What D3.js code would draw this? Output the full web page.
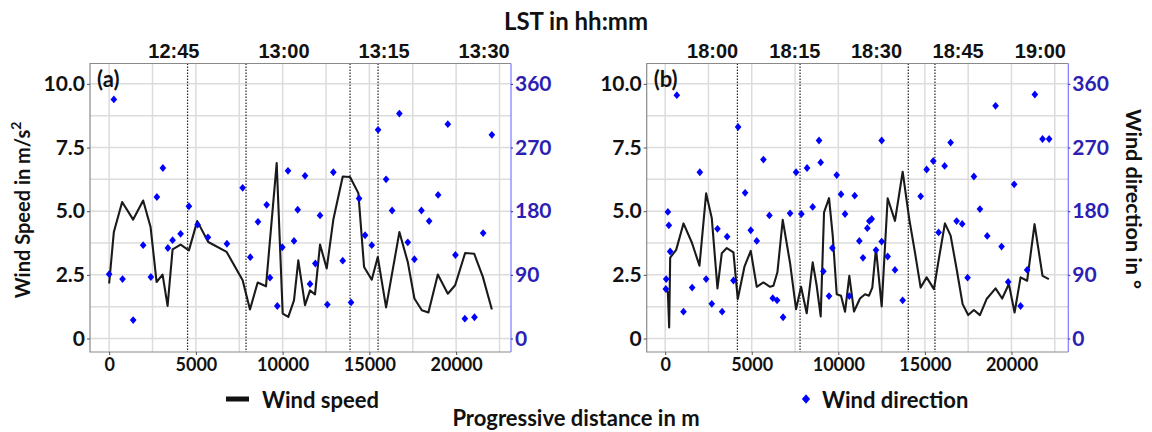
<!DOCTYPE html>
<html>
<head>
<meta charset="utf-8">
<script src="https://cdn.jsdelivr.net/npm/d3@7"></script>
<style>
  body { margin: 0; background: #fff; }
  svg { display: block; }
</style>
</head>
<body>
<svg id="chart" width="1152" height="432"></svg>
<script>
// ---- Panel (a): midday traverse ----
const speedDistA = [0, 271, 750, 1385, 1961, 2388, 2734, 3080, 3369, 3657, 4119, 4598, 5076, 5711, 6772, 7695,
  8117, 8561, 9040, 9657, 10003, 10326, 10655, 10903, 11290, 11578, 11866, 12155, 12541, 12922, 13464, 13885,
  14364, 14693, 15137, 15483, 15962, 16729, 17214, 17595, 18021, 18402, 18944, 19521, 19942, 20519, 21039, 21540, 22059];
const speedA = [2.16, 4.18, 5.36, 4.67, 5.42, 4.38, 2.22, 2.51, 1.28, 3.50, 3.69, 3.46, 4.61, 3.79, 3.40, 2.29,
  1.14, 2.20, 2.05, 6.89, 0.98, 0.85, 1.50, 3.07, 1.31, 1.89, 1.73, 3.69, 2.75, 4.67, 6.36, 6.34,
  5.71, 2.81, 2.31, 3.20, 1.22, 4.18, 3.00, 1.57, 1.11, 1.02, 2.51, 1.76, 2.09, 3.36, 3.33, 2.42, 1.14];
const dirDistA = [0, 271, 773, 1385, 1961, 2406, 2752, 3098, 3386, 3657, 4119, 4598, 5100, 5694, 6790, 7695,
  8135, 8578, 9080, 9270, 9692, 9980, 10309, 10655, 10868, 11290, 11578, 11884, 12155, 12576, 12922, 13464,
  13943, 14405, 14751, 15137, 15500, 15962, 16308, 16729, 17214, 17595, 18000, 18443, 18962, 19521, 19960,
  20502, 21057, 21557, 22059];
const dirA = [91, 338, 84, 26, 132, 87, 200, 241, 128, 139, 148, 187, 161, 143, 134, 213,
  115, 165, 189, 86, 46, 129, 237, 138, 182, 230, 77, 106, 174, 48, 235, 110,
  51, 198, 146, 132, 295, 225, 181, 318, 136, 112, 181, 166, 203, 303, 118,
  28, 30, 149, 288];
const markerDistA = [4520, 7890, 13885, 15500];
const timeDistA = [3704, 10049, 15818, 21586];
const timeLabelsA = ["12:45", "13:00", "13:15", "13:30"];

// ---- Panel (b): evening traverse ----
const speedDistB = [40, 156, 231, 289, 635, 1058, 1539, 1981, 2366, 2693, 3020, 3270, 3559, 3943, 4193, 4578,
  4943, 5289, 5674, 6059, 6251, 6482, 6790, 7213, 7559, 7848, 8174, 8520, 8751, 8982, 9175, 9463,
  9677, 9907, 10156, 10387, 10635, 10906, 11252, 11541, 11771, 11963, 12175, 12504, 12850, 13272, 13716,
  14097, 14426, 14755, 15101, 15522, 15771, 16157, 16486, 16832, 17178, 17501, 17830, 18177, 18563,
  19082, 19463, 19850, 20179, 20525, 20906, 21333, 21794, 22158];
const speedB = [1.94, 1.81, 0.43, 3.18, 3.48, 4.52, 3.77, 2.86, 5.70, 4.72, 1.97, 3.35, 3.55, 3.38, 1.55, 2.82,
  3.44, 2.03, 2.20, 2.03, 2.07, 2.60, 4.66, 2.96, 1.15, 2.03, 0.99, 2.99, 2.07, 0.87, 4.95, 5.51,
  4.04, 1.74, 1.68, 1.05, 2.46, 1.06, 1.57, 1.74, 1.68, 2.00, 3.54, 1.26, 5.51, 4.62, 6.55,
  4.69, 3.38, 2.00, 2.40, 1.94, 2.99, 4.52, 4.04, 2.73, 1.35, 0.92, 1.12, 0.92, 1.55,
  1.97, 1.57, 2.14, 1.02, 2.40, 2.27, 4.49, 2.46, 2.33];
const dirDistB = [40, 58, 156, 212, 289, 673, 1058, 1558, 2001, 2366, 2693, 3020, 3289, 3578, 3943, 4212,
  4616, 4943, 5289, 5674, 6020, 6213, 6463, 6809, 7213, 7559, 7867, 8194, 8520, 8886, 8982, 9136,
  9463, 9656, 9907, 10156, 10387, 10635, 10946, 11213, 11425, 11675, 11790, 11928, 12175, 12504, 12504,
  12850, 13272, 13716, 14755, 15101, 15483, 15793, 16139, 16486, 16832, 17155, 17466, 17830, 18177,
  18598, 19082, 19428, 19810, 20156, 20525, 20906, 21350, 21794, 22175];
const dirB = [70, 84, 179, 160, 123, 344, 38, 72, 235, 84, 49, 155, 38, 144, 82, 299,
  206, 153, 138, 253, 174, 57, 54, 30, 177, 235, 176, 241, 186, 280, 249, 95,
  60, 128, 231, 204, 176, 60, 202, 138, 114, 156, 166, 169, 125, 280, 137,
  116, 97, 54, 201, 239, 251, 150, 244, 277, 166, 162, 86, 229, 183,
  145, 329, 130, 80, 218, 46, 97, 345, 282, 282];
const markerDistB = [4172, 7790, 14039, 15580];
const timeDistB = [2712, 7461, 12175, 16890, 21639];
const timeLabelsB = ["18:00", "18:15", "18:30", "18:45", "19:00"];

// ---- Shared axis definitions ----
const speedTicks = [0, 2.5, 5, 7.5, 10];
const speedTickLabels = ["0", "2.5", "5.0", "7.5", "10.0"];
const dirTicks = [0, 90, 180, 270, 360];
const distTicks = [0, 5000, 10000, 15000, 20000];
const speedGridStep = 1.25;
const distGridStep = 2500;
const dirPerSpeed = 36;            // 360° of direction span the same height as 10 m/s

const FONT = "Lato, 'Open Sans', sans-serif";
const TIME_FONT = "'Liberation Sans', Arial, sans-serif";
const DIR_COLOR = "#2d1eb4";
const MARK_COLOR = "#0000ff";

const svg = d3.select("#chart");

// diamond marker, a little squatter than d3.symbolDiamond
const diamond = {
  draw(ctx, size) {
    const h = Math.sqrt(size) * 0.62, w = h * 0.85;
    ctx.moveTo(0, -h); ctx.lineTo(w, 0); ctx.lineTo(0, h); ctx.lineTo(-w, 0); ctx.closePath();
  }
};

function drawPanel(cfg) {
  const { left, right, top, bottom } = cfg.box;
  const allDist = cfg.speedDist.concat(cfg.dirDist);
  const [xmin, xmax] = d3.extent(allDist);
  const pad = (xmax - xmin) * 0.05;
  const x = d3.scaleLinear().domain([xmin - pad, xmax + pad]).range([left, right]);
  const y = d3.scaleLinear().domain([-0.53, 10.8]).range([bottom, top]);
  const yDir = d3.scaleLinear().domain(y.domain().map(v => v * dirPerSpeed)).range([bottom, top]);

  const g = svg.append("g");

  // grid
  const yGrid = d3.range(0, 10 + 1e-9, speedGridStep);
  const xGrid = d3.range(Math.ceil(x.domain()[0] / distGridStep) * distGridStep, x.domain()[1], distGridStep);
  g.append("g").selectAll("line").data(yGrid).join("line")
    .attr("x1", left).attr("x2", right)
    .attr("y1", d => y(d)).attr("y2", d => y(d))
    .attr("stroke", "#dcdcdc").attr("stroke-width", 1.5);
  g.append("g").selectAll("line").data(xGrid).join("line")
    .attr("y1", top).attr("y2", bottom)
    .attr("x1", d => x(d)).attr("x2", d => x(d))
    .attr("stroke", "#dcdcdc").attr("stroke-width", 1.5);

  // dotted time markers
  g.append("g").selectAll("line").data(cfg.markers).join("line")
    .attr("y1", top).attr("y2", bottom)
    .attr("x1", d => x(d)).attr("x2", d => x(d))
    .attr("stroke", "#222").attr("stroke-width", 1.2).attr("stroke-dasharray", "1.5,1.5");

  // wind speed line
  const pts = cfg.speedDist.map((d, i) => [d, cfg.speed[i]]);
  g.append("path").datum(pts)
    .attr("fill", "none").attr("stroke", "#1a1a1a").attr("stroke-width", 2.1)
    .attr("stroke-linejoin", "round")
    .attr("d", d3.line().x(d => x(d[0])).y(d => y(d[1])));

  // wind direction markers
  const dpts = cfg.dirDist.map((d, i) => [d, cfg.dir[i]]);
  g.append("g").selectAll("path").data(dpts).join("path")
    .attr("transform", d => `translate(${x(d[0])},${yDir(d[1])})`)
    .attr("d", d3.symbol(diamond, 40))
    .attr("fill", MARK_COLOR);

  // frame
  g.append("path")
    .attr("d", `M${right},${top}H${left}V${bottom}H${right}`)
    .attr("fill", "none").attr("stroke", "#8a8a8a").attr("stroke-width", 1.2);
  g.append("line").attr("x1", right).attr("x2", right).attr("y1", top).attr("y2", bottom)
    .attr("stroke", "#7a7aff").attr("stroke-width", 1.2);

  // left axis
  const ax = g.append("g").attr("transform", `translate(${left},0)`)
    .call(d3.axisLeft(y).tickValues(speedTicks).tickFormat((d, i) => speedTickLabels[i])
      .tickSize(3).tickPadding(2));
  ax.select(".domain").remove();
  ax.selectAll("line").attr("stroke", "#555");
  ax.selectAll("text").attr("font-family", FONT).attr("font-weight", 700)
    .attr("font-size", 21).attr("fill", "#111");

  // right axis
  const ar = g.append("g").attr("transform", `translate(${right},0)`)
    .call(d3.axisRight(yDir).tickValues(dirTicks).tickSize(2).tickPadding(2));
  ar.select(".domain").remove();
  ar.selectAll("line").attr("stroke", DIR_COLOR);
  ar.selectAll("text").attr("font-family", FONT).attr("font-weight", 700)
    .attr("font-size", 21).attr("fill", DIR_COLOR);

  // bottom axis
  const ab = g.append("g").attr("transform", `translate(0,${bottom})`)
    .call(d3.axisBottom(x).tickValues(distTicks).tickFormat(d3.format("d")).tickSize(3).tickPadding(3));
  ab.select(".domain").remove();
  ab.selectAll("line").attr("stroke", "#555");
  ab.selectAll("text").attr("font-family", FONT).attr("font-weight", 700)
    .attr("font-size", 18).attr("fill", "#111");

  // top time axis
  const at = g.append("g").attr("transform", `translate(0,${top - 6})`)
    .call(d3.axisTop(x).tickValues(cfg.timeDist).tickFormat((d, i) => cfg.timeLabels[i])
      .tickSize(0).tickPadding(0));
  at.select(".domain").remove();
  at.selectAll("text").attr("font-family", TIME_FONT).attr("font-weight", 700)
    .attr("font-size", 20).attr("fill", "#111");

  // panel tag
  g.append("text").attr("x", left + 7).attr("y", top + 23)
    .attr("font-family", FONT).attr("font-weight", 700).attr("font-size", 22)
    .attr("fill", "#111").text(cfg.tag);
}

drawPanel({
  box: { left: 90, right: 511, top: 63.5, bottom: 352 },
  speedDist: speedDistA, speed: speedA, dirDist: dirDistA, dir: dirA,
  markers: markerDistA, timeDist: timeDistA, timeLabels: timeLabelsA, tag: "(a)"
});
drawPanel({
  box: { left: 646.7, right: 1068.3, top: 63.5, bottom: 352 },
  speedDist: speedDistB, speed: speedB, dirDist: dirDistB, dir: dirB,
  markers: markerDistB, timeDist: timeDistB, timeLabels: timeLabelsB, tag: "(b)"
});

// titles
const title = (x, y, txt, size, rot) => svg.append("text")
  .attr("transform", `translate(${x},${y})${rot ? ` rotate(${rot})` : ""}`)
  .attr("text-anchor", "middle").attr("dominant-baseline", "central")
  .attr("font-family", FONT).attr("font-weight", 700).attr("font-size", size)
  .attr("fill", "#111").text(txt);

title(576, 20, "LST in hh:mm", 24);
title(576, 417, "Progressive distance in m", 22);
const yt = title(22, 210, "", 20, -90);
yt.append("tspan").text("Wind Speed in m/s");
yt.append("tspan").attr("dy", -7).attr("font-size", 14).text("2");
title(1134, 199, "Wind direction in °", 21.5, 90);

// legend
const lg = svg.append("g");
lg.append("line").attr("x1", 226).attr("x2", 249).attr("y1", 399).attr("y2", 399)
  .attr("stroke", "#111").attr("stroke-width", 5);
lg.append("text").attr("x", 262).attr("y", 399).attr("dominant-baseline", "central")
  .attr("font-family", FONT).attr("font-weight", 700).attr("font-size", 22)
  .attr("fill", "#111").text("Wind speed");
lg.append("path").attr("transform", "translate(806,399)")
  .attr("d", d3.symbol(diamond, 60)).attr("fill", MARK_COLOR);
lg.append("text").attr("x", 822).attr("y", 399).attr("dominant-baseline", "central")
  .attr("font-family", FONT).attr("font-weight", 700).attr("font-size", 22)
  .attr("fill", "#111").text("Wind direction");
</script>
</body>
</html>
